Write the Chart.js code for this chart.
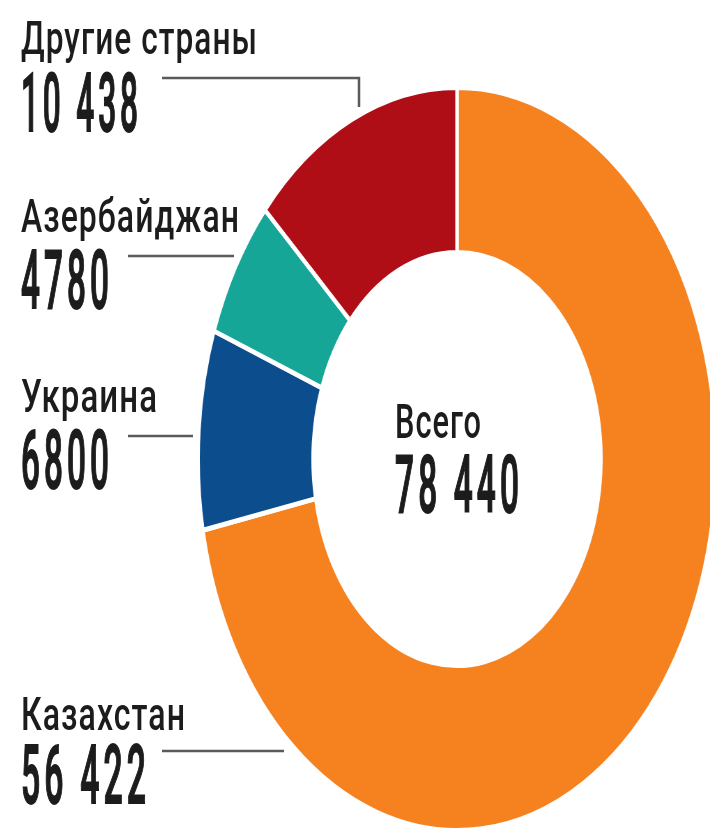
<!DOCTYPE html>
<html lang="ru">
<head>
<meta charset="utf-8">
<title>Всего 78 440</title>
<script src="https://cdn.jsdelivr.net/npm/chart.js@4.4.1/dist/chart.umd.min.js"></script>
<style>
    html, body { margin: 0; padding: 0; background: #fff; }
    #stage { position: relative; width: 710px; height: 834px; overflow: hidden; background: #fff; }
    /* кольцо в оригинале сжато по горизонтали, поэтому сжимаем canvas */
    #ringBox { position: absolute; left: 83px; top: 85px; width: 748px; height: 748px;
               transform: scaleX(0.697); transform-origin: 374px 374px; }
    #labels { position: absolute; left: 0; top: 0; }
    #labels text { font-family: Roboto, "DejaVu Sans", sans-serif; fill: #1c1c1c; }
</style>
</head>
<body>
<div id="stage">
    <div id="ringBox"><canvas id="ringChart"></canvas></div>
    <svg id="labels" width="710" height="834" viewBox="0 0 710 834"></svg>
</div>
<script>
// Данные
const countries = ['Казахстан', 'Украина', 'Азербайджан', 'Другие страны'];
const values = [56422, 6800, 4780, 10438];
const colors = ['#f5821f', '#0c4d8d', '#16a697', '#b00e17'];
const totalTitle = 'Всего';

// 10 438, но 4780 (как в оригинале)
function formatNum(n) {
    const s = String(n);
    return n >= 10000 ? s.replace(/\B(?=(\d{3})+(?!\d))/g, ' ') : s;
}

const total = values.reduce((sum, v) => sum + v, 0);

new Chart(document.getElementById('ringChart'), {
    type: 'doughnut',
    data: {
        labels: countries,
        datasets: [{
            data: values,
            backgroundColor: colors,
            borderColor: '#ffffff',
            borderWidth: 5,
            hoverOffset: 0
        }]
    },
    options: {
        responsive: true,
        maintainAspectRatio: false,
        animation: false,
        cutout: '55.6%',
        layout: { padding: 0 },
        plugins: { legend: { display: false }, tooltip: { enabled: false } }
    }
});

// Подписи слева: базовая линия и ширина текста
const labelLayout = [
    { name: { y: 730, w: 164 }, num: { y: 803, w: 125 }, line: [[162, 751], [284, 751]] },   // Казахстан
    { name: { y: 412, w: 136 }, num: { y: 488, w: 88 },  line: [[128, 436], [193, 436]] },   // Украина
    { name: { y: 232, w: 218 }, num: { y: 308, w: 88 },  line: [[128, 256], [234, 256]] },   // Азербайджан
    { name: { y: 54,  w: 236 }, num: { y: 131, w: 117 }, line: [[162, 78], [359, 78], [359, 107]] } // Другие
];

const svg = document.getElementById('labels');
const NS = 'http://www.w3.org/2000/svg';

// текст сжимается по ширине, чтобы получить узкий шрифт как в оригинале
function addText(str, x, y, size, weight, width, spacing, stroke) {
    const t = document.createElementNS(NS, 'text');
    t.setAttribute('x', 0);
    t.setAttribute('y', 0);
    t.setAttribute('font-size', size);
    t.setAttribute('font-weight', weight);
    t.setAttribute('letter-spacing', spacing);
    if (stroke) {
        t.setAttribute('stroke', '#1c1c1c');
        t.setAttribute('stroke-width', stroke);
        t.setAttribute('vector-effect', 'non-scaling-stroke');
    }
    t.textContent = str;
    svg.appendChild(t);
    const w0 = t.getComputedTextLength() - spacing;
    const sx = w0 > 0 ? width / w0 : 1;
    t.setAttribute('transform', `translate(${x},${y}) scale(${sx},1)`);
}

countries.forEach((c, i) => {
    const L = labelLayout[i];
    addText(c, 21, L.name.y, 46, 500, L.name.w, 1.5);
    addText(formatNum(values[i]), 21, L.num.y, 82, 500, L.num.w, 10, 1.4);
    const p = document.createElementNS(NS, 'polyline');
    p.setAttribute('points', L.line.map(pt => pt.join(',')).join(' '));
    p.setAttribute('fill', 'none');
    p.setAttribute('stroke', '#5a5a5a');
    p.setAttribute('stroke-width', 2.5);
    svg.appendChild(p);
});

// Центр кольца
addText(totalTitle, 395, 438, 48, 500, 86, 1.5);
addText(formatNum(total), 395, 512, 80, 500, 124, 10, 1.4);
</script>
</body>
</html>
